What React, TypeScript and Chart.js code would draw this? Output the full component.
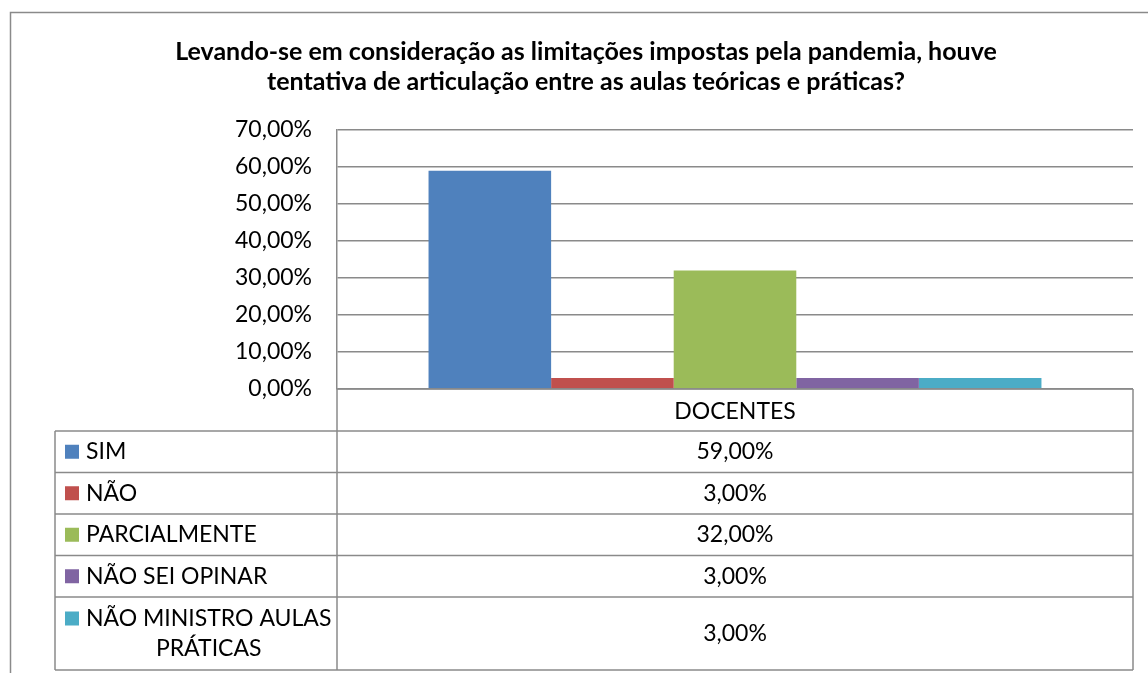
import React, { useEffect, useRef } from 'react';
import { Chart, registerables } from 'chart.js';

Chart.register(...registerables);

const titleLines = [
  'Levando-se em consideração as limitações impostas pela pandemia, houve',
  'tentativa de articulação entre as aulas teóricas e práticas?',
];
const categories = ['DOCENTES'];
const seriesNames = ['SIM', 'NÃO', 'PARCIALMENTE', 'NÃO SEI OPINAR', 'NÃO MINISTRO AULAS PRÁTICAS'];
const seriesValues = [59, 3, 32, 3, 3];
const seriesColors = ['#4F81BD', '#C0504D', '#9BBB59', '#8064A2', '#4BACC6'];
const yMin = 0;
const yMax = 70;
const yStep = 10;

const FONT = "Lato, 'Noto Sans', sans-serif";
const LINE = '#8a8a8a';

const fmt = (v: number) => v.toFixed(2).replace('.', ',') + '%';

function wrap(ctx: CanvasRenderingContext2D, text: string, maxW: number): string[] {
  const words = text.split(' ');
  const lines: string[] = [];
  let cur = '';
  for (const w of words) {
    const t = cur ? cur + ' ' + w : w;
    if (ctx.measureText(t).width > maxW && cur) {
      lines.push(cur);
      cur = w;
    } else cur = t;
  }
  if (cur) lines.push(cur);
  return lines;
}

const framePlugin = {
  id: 'frame',
  beforeDraw(chart: any) {
    const ctx = chart.ctx as CanvasRenderingContext2D;
    ctx.save();
    ctx.fillStyle = '#ffffff';
    ctx.fillRect(0, 0, chart.width, chart.height);
    ctx.strokeStyle = LINE;
    ctx.lineWidth = 1.5;
    ctx.strokeRect(10.5, 12.5, chart.width + 20, chart.height + 20);
    ctx.restore();
  },
  afterDraw(chart: any) {
    const ctx = chart.ctx as CanvasRenderingContext2D;
    const a = chart.chartArea;
    const xL = 55;
    const xD = a.left;
    const xR = a.right;
    const headerH = 42;
    const rowH = 41.5;
    const extraLine = 31.5;
    const keyX = 65;
    const textX = 86;
    const maxTextW = xD - textX - 4;

    ctx.save();
    ctx.font = `23px ${FONT}`;
    ctx.fillStyle = '#000';
    ctx.textBaseline = 'middle';

    const rows = seriesNames.map((n) => wrap(ctx, n, maxTextW));
    let y = a.bottom + headerH;
    const rowTops: number[] = [];
    rows.forEach((lines) => {
      rowTops.push(y);
      y += rowH + (lines.length - 1) * extraLine;
    });
    const bottom = y;

    ctx.strokeStyle = LINE;
    ctx.lineWidth = 1.5;
    ctx.beginPath();
    ctx.moveTo(xD, a.bottom);
    ctx.lineTo(xR, a.bottom);
    ctx.moveTo(xD, a.bottom);
    ctx.lineTo(xD, bottom);
    ctx.moveTo(xR, a.bottom);
    ctx.lineTo(xR, bottom);
    ctx.moveTo(xL, rowTops[0]);
    ctx.lineTo(xL, bottom);
    rowTops.concat([bottom]).forEach((t) => {
      ctx.moveTo(xL, t);
      ctx.lineTo(xR, t);
    });
    ctx.stroke();

    rows.forEach((lines, i) => {
      const top = rowTops[i];
      const h = rowH + (lines.length - 1) * extraLine;
      const cy = top + h / 2;
      const firstY = cy - ((lines.length - 1) * 30) / 2;
      ctx.fillStyle = seriesColors[i];
      ctx.fillRect(keyX, firstY - 7, 14, 14);
      ctx.fillStyle = '#000';
      const maxW = Math.max(...lines.map((l) => ctx.measureText(l).width));
      ctx.textAlign = 'center';
      lines.forEach((l, j) => {
        ctx.fillText(l, textX + maxW / 2, firstY + j * 30);
      });
      ctx.fillText(fmt(seriesValues[i]), (xD + xR) / 2, cy);
    });
    ctx.restore();
  },
};

export default function App() {
  const ref = useRef<HTMLCanvasElement>(null);
  useEffect(() => {
    if (!ref.current) return;
    const chart = new Chart(ref.current, {
      type: 'bar',
      data: {
        labels: categories,
        datasets: seriesNames.map((n, i) => ({
          label: n,
          data: [seriesValues[i]],
          backgroundColor: seriesColors[i],
          borderWidth: 0,
          categoryPercentage: 0.77,
          barPercentage: 1,
        })),
      },
      options: {
        responsive: false,
        animation: false,
        layout: { padding: { left: 39, right: 15, top: 37, bottom: 0 } },
        plugins: {
          legend: { display: false },
          tooltip: { enabled: false },
          title: {
            display: true,
            text: titleLines,
            color: '#000',
            font: { family: FONT, size: 25, weight: 'bold', lineHeight: 1.2 },
            padding: { top: 0, bottom: 33 },
          },
        },
        scales: {
          x: {
            grid: { display: false },
            border: { display: false },
            ticks: { color: '#000', font: { family: FONT, size: 23 }, padding: 1 },
            afterFit: (s: any) => {
              s.height = 284;
            },
          },
          y: {
            min: yMin,
            max: yMax,
            grid: { color: LINE, lineWidth: 1.5, drawTicks: false },
            border: { color: LINE, width: 1.5 },
            ticks: {
              stepSize: yStep,
              color: '#000',
              font: { family: FONT, size: 23 },
              padding: 25,
              callback: (v: any) => fmt(Number(v)),
            },
            afterFit: (s: any) => {
              s.width = 298;
            },
          },
        },
      },
      plugins: [framePlugin],
    });
    return () => chart.destroy();
  }, []);
  return (
    <div style={{ position: 'fixed', left: 0, top: 0, width: 1148, height: 673, background: '#fff' }}>
      <canvas ref={ref} width={1148} height={673} style={{ width: 1148, height: 673, display: 'block' }} />
    </div>
  );
}
